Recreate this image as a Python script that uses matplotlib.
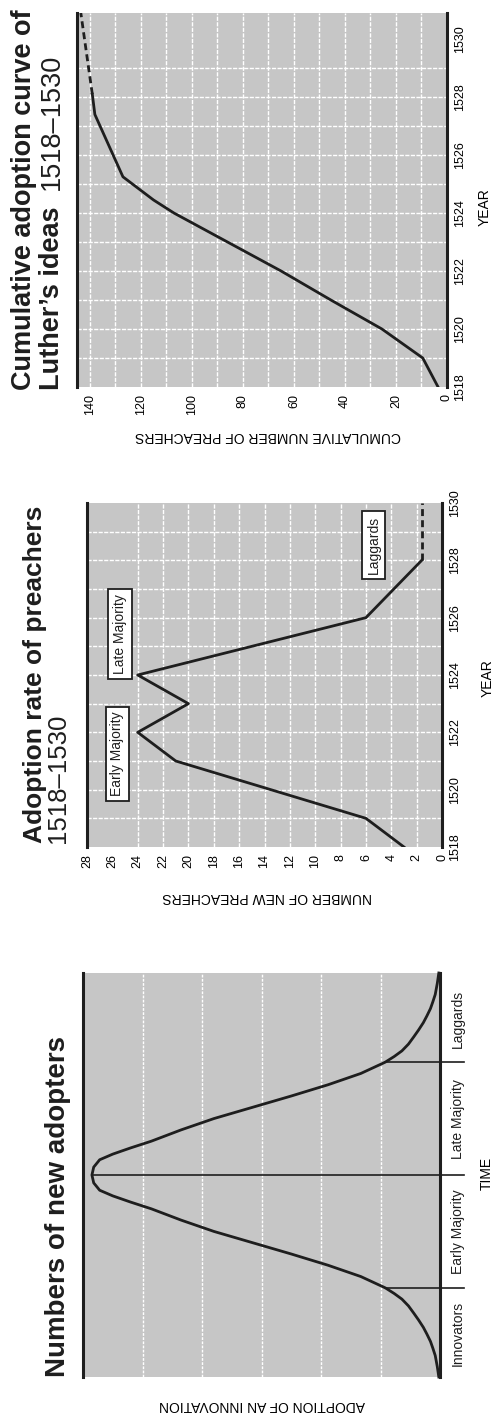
import numpy as np
import matplotlib
matplotlib.use('Agg')
import matplotlib.pyplot as plt

plt.rcParams['font.family'] = ['Liberation Sans', 'DejaVu Sans']

W, H = 496, 1421
GRAY = '#c6c6c6'
INK = '#1e1e1e'

# idealised curve of new adopters (time in std units, height in grid units)
bell_time = [-3.58, -3.4, -3.2, -3.07, -2.95, -2.82, -2.7, -2.57, -2.45, -2.32, -2.2, -2.1,
             -2.0, -1.8, -1.6, -1.4, -1.2, -1.0, -0.8, -0.6, -0.48, -0.37, -0.27, -0.14,
             0.0, 0.14, 0.27, 0.37, 0.48, 0.6, 0.8, 1.0, 1.2, 1.4, 1.6, 1.8, 2.0,
             2.1, 2.2, 2.32, 2.45, 2.57, 2.7, 2.82, 2.95, 3.07, 3.2, 3.4, 3.58]
bell_adopt = [0.02, 0.045, 0.08, 0.12, 0.16, 0.22, 0.28, 0.36, 0.44, 0.53, 0.64, 0.77,
              0.92, 1.33, 1.88, 2.5, 3.15, 3.8, 4.35, 4.85, 5.2, 5.5, 5.72, 5.82,
              5.85, 5.82, 5.72, 5.5, 5.2, 4.85, 4.35, 3.8, 3.15, 2.5, 1.88, 1.33, 0.92,
              0.77, 0.64, 0.53, 0.44, 0.36, 0.28, 0.22, 0.16, 0.12, 0.08, 0.045, 0.02]
bell_splits = [-2.0, 0.0, 2.0]
bell_groups = ['Innovators', 'Early Majority', 'Late Majority', 'Laggards']
bell_group_time = [-2.8, -1.0, 1.0, 2.76]

# adoption rate of preachers
rate_years = [1518, 1519, 1521, 1522, 1523, 1524, 1526, 1528]
rate_new = [3, 6, 21, 24, 20, 24, 6, 1.6]
rate_tail_years = [1528, 1530]
rate_tail = [1.6, 1.6]
rate_boxes = ['Early Majority', 'Late Majority', 'Laggards']
rate_box_years = [1521.25, 1525.43, 1528.53]
rate_box_vals = [25.6, 25.4, 5.4]

# cumulative number of preachers
cum_years = [1518, 1519, 1520, 1521, 1522, 1523, 1524, 1524.45, 1525.25, 1527.4, 1528.1]
cum_total = [3.5, 9.5, 25.5, 45.5, 65, 86, 107, 115, 127, 138, 139]
cum_tail_years = [1528.1, 1530.9]
cum_tail = [139, 143.5]

fig = plt.figure(figsize=(W / 100, H / 100), dpi=100)
fig.patch.set_facecolor('white')


def add_panel(x0, y0, x1, y1):
    # the page is turned: time runs up the sheet, counts run to the left
    ax = fig.add_axes([x0 / W, 1 - y1 / H, (x1 - x0) / W, (y1 - y0) / H])
    ax.set_facecolor(GRAY)
    for side in ['top', 'bottom']:
        ax.spines[side].set_visible(False)
    for side in ['left', 'right']:
        ax.spines[side].set_linewidth(2.2)
        ax.spines[side].set_color(INK)
    ax.tick_params(length=0)
    return ax


def grid(ax, xs, ys, ls=(0, (3, 1))):
    for v in xs:
        ax.axvline(v, color='white', lw=1.0, ls=ls, zorder=1)
    for v in ys:
        ax.axhline(v, color='white', lw=1.0, ls=ls, zorder=1)


def year_axis(ax, xlabel, xlabel_xy, ylabel_xy):
    ax.yaxis.tick_right()
    ax.set_yticks(range(1518, 1531, 2))
    ax.tick_params(axis='y', pad=5, labelsize=9)
    plt.setp(ax.get_yticklabels(), rotation=90, va='center', ha='left')
    ax.tick_params(axis='x', labelrotation=90, pad=5, labelsize=9)
    ax.set_xlabel(xlabel, rotation=180, fontsize=10)
    ax.xaxis.label.set_va('center')
    ax.xaxis.set_label_coords(*xlabel_xy)
    ax.yaxis.set_label_position('right')
    ax.set_ylabel('YEAR', rotation=90, fontsize=10)
    ax.yaxis.label.set_va('center')
    ax.yaxis.label.set_ha('center')
    ax.yaxis.set_label_coords(*ylabel_xy)


def title(x, y, s, size=20, weight='bold'):
    fig.text(x / W, 1 - y / H, s, rotation=90, rotation_mode='anchor',
             ha='left', va='baseline', fontsize=size, fontweight=weight, color=INK)


# --- Numbers of new adopters ---
ax1 = add_panel(83, 973, 440, 1377)
grid(ax1, range(1, 6), [], ls=(0, (2, 1)))
ax1.plot(bell_adopt, bell_time, color=INK, lw=2.0, zorder=3, clip_on=False)
for t in bell_splits:
    top = np.interp(t, bell_time, bell_adopt)
    ax1.plot([top, -0.4], [t, t], color=INK, lw=1.2, zorder=2, clip_on=False)
for name, t in zip(bell_groups, bell_group_time):
    ax1.text(-0.3, t, name, rotation=90, ha='center', va='center', fontsize=10,
             color=INK, clip_on=False)
ax1.set_xlim(6, 0)
ax1.set_ylim(-3.58, 3.58)
ax1.set_xticks([])
ax1.set_yticks([])
ax1.set_xlabel('ADOPTION OF AN INNOVATION', rotation=180, fontsize=10)
ax1.xaxis.label.set_va('center')
ax1.xaxis.set_label_coords(0.501, -0.069)
ax1.yaxis.set_label_position('right')
ax1.set_ylabel('TIME', rotation=90, fontsize=10)
ax1.yaxis.label.set_va('center')
ax1.yaxis.label.set_ha('center')
ax1.yaxis.set_label_coords(1.132, 0.505)
title(65, 1377, 'Numbers of new adopters')

# --- Adoption rate of preachers ---
ax2 = add_panel(87, 503, 442, 847)
grid(ax2, range(2, 25, 2), range(1519, 1530))
ax2.plot(rate_new, rate_years, color=INK, lw=2.0, zorder=3)
ax2.plot(rate_tail, rate_tail_years, color=INK, lw=2.0, ls=(0, (2.5, 1.5)), zorder=3)
for name, yr, v in zip(rate_boxes, rate_box_years, rate_box_vals):
    ax2.text(v, yr, name, rotation=90, ha='center', va='center', fontsize=10, color=INK,
             zorder=4, bbox=dict(boxstyle='square,pad=0.35', fc='white', ec=INK, lw=1.3))
ax2.set_xlim(28, 0)
ax2.set_ylim(1518, 1530)
ax2.set_xticks(range(0, 29, 2))
year_axis(ax2, 'NUMBER OF NEW PREACHERS', (0.507, -0.145), (1.13, 0.491))
title(42, 843, 'Adoption rate of preachers', size=19)
title(65, 843, '1518\u20131530', size=18.5, weight='normal')

# --- Cumulative adoption curve ---
ax3 = add_panel(77, 13, 447, 387)
grid(ax3, range(10, 141, 10), range(1519, 1530))
ax3.plot(cum_total, cum_years, color=INK, lw=2.0, zorder=3)
ax3.plot(cum_tail, cum_tail_years, color=INK, lw=2.0, ls=(0, (2.5, 1.5)), zorder=3)
ax3.set_xlim(145, 0)
ax3.set_ylim(1518, 1530.9)
ax3.set_xticks(range(0, 141, 20))
year_axis(ax3, 'CUMULATIVE NUMBER OF PREACHERS', (0.516, -0.131), (1.103, 0.481))
title(31, 390, 'Cumulative adoption curve of', size=19.5)
title(59, 390, 'Luther\u2019s ideas', size=19.5)
title(59, 190, '1518\u20131530', size=19.5, weight='normal')

fig.savefig('out.png', dpi=100, facecolor='white')
